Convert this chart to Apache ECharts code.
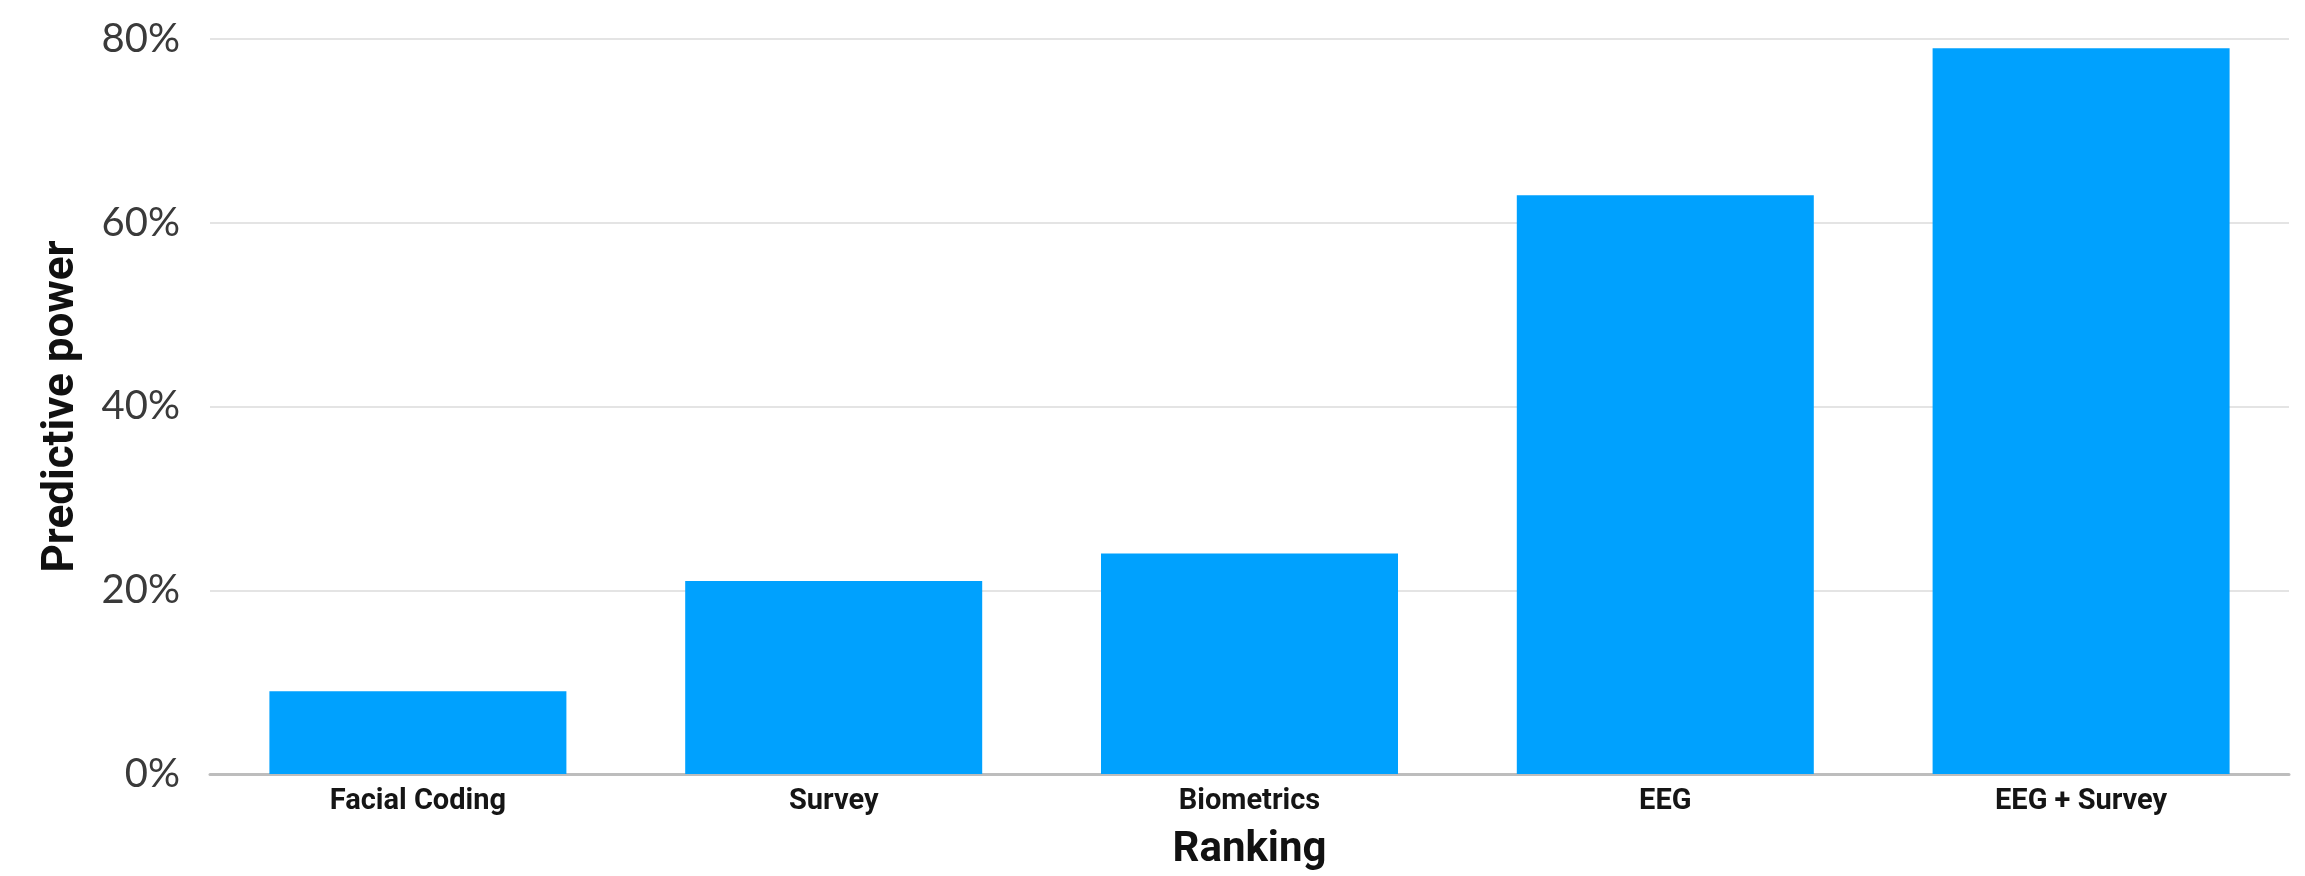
<!DOCTYPE html>
<html>
<head>
<meta charset="utf-8">
<script src="https://cdn.jsdelivr.net/npm/echarts@6/dist/echarts.min.js"></script>
<style>
  html, body { margin: 0; padding: 0; background: #ffffff; }
  #chart { width: 2305px; height: 876px; }
</style>
</head>
<body>
<div id="chart"></div>
<script>
// Predictive power of each research method
const categories = ['Facial Coding', 'Survey', 'Biometrics', 'EEG', 'EEG + Survey'];
const predictivePower = [9, 21, 24, 63, 79];
const yTicks = [0, 20, 40, 60, 80];

const chart = echarts.init(document.getElementById('chart'), null, { renderer: 'canvas' });

chart.setOption({
  backgroundColor: '#ffffff',
  animation: false,
  grid: { left: 210, right: 16, top: 39, bottom: 89, containLabel: false },
  xAxis: {
    type: 'category',
    data: categories,
    name: 'Ranking',
    nameLocation: 'middle',
    nameGap: 55,
    nameTextStyle: {
      fontFamily: "'Roboto', sans-serif",
      fontWeight: 'bold',
      fontSize: 42,
      color: '#111111'
    },
    axisLine: { show: true, lineStyle: { color: '#bdbdbd', width: 3 } },
    axisTick: { show: false },
    axisLabel: {
      margin: 13,
      fontFamily: "'Roboto', sans-serif",
      fontWeight: 'bold',
      fontSize: 29,
      color: '#151515'
    }
  },
  yAxis: {
    type: 'value',
    min: yTicks[0],
    max: yTicks[yTicks.length - 1],
    interval: 20,
    name: 'Predictive power',
    nameLocation: 'middle',
    nameRotate: 90,
    nameGap: 126,
    nameTextStyle: {
      fontFamily: "'Roboto', sans-serif",
      fontWeight: 'bold',
      fontSize: 44,
      color: '#111111'
    },
    axisLine: { show: false },
    axisTick: { show: false },
    axisLabel: {
      margin: 30,
      formatter: '{value}%',
      fontFamily: "'Lato', sans-serif",
      fontSize: 40,
      color: '#3a3a3a'
    },
    splitLine: { show: true, lineStyle: { color: '#e4e4e4', width: 2 } }
  },
  series: [{
    type: 'bar',
    data: predictivePower,
    barWidth: 297,
    itemStyle: { color: '#00a1fe' }
  }]
});
</script>
</body>
</html>
